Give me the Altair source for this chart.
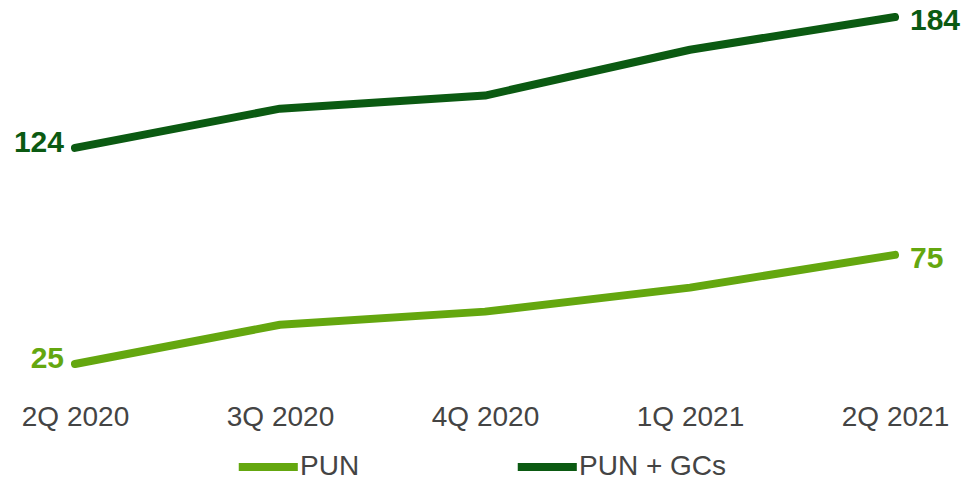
import altair as alt
import pandas as pd

quarters = ["2Q 2020", "3Q 2020", "4Q 2020", "1Q 2021", "2Q 2021"]
pun = [25, 43, 49, 60, 75]
pun_gcs = [124, 142, 148, 169, 184]
series_names = ["PUN", "PUN + GCs"]
series_colors = ["#64a70f", "#0b5a12"]

rows = []
for q, a, b in zip(quarters, pun, pun_gcs):
    rows.append({"quarter": q, "series": series_names[0], "value": a})
    rows.append({"quarter": q, "series": series_names[1], "value": b})
df = pd.DataFrame(rows)

regular = "Liberation Sans, Arial, sans-serif"
bold = "Liberation Sans, Arial, sans-serif"

x_enc = alt.X(
    "quarter:N",
    sort=quarters,
    scale=alt.Scale(type="point", padding=0),
    axis=alt.Axis(
        title=None,
        domain=False,
        ticks=False,
        grid=False,
        labelAngle=0,
        labelFont=regular,
        labelFontSize=28,
        labelColor="#444444",
        labelPadding=39,
    ),
)
y_enc = alt.Y(
    "value:Q",
    scale=alt.Scale(domain=[25, 184], zero=False, nice=False),
    axis=None,
)
# legend swatch: a long horizontal stroke reaching left of the symbol slot,
# so the entry keeps a compact height
color_enc = alt.Color(
    "series:N",
    scale=alt.Scale(domain=series_names, range=series_colors),
    legend=alt.Legend(
        title=None,
        orient="none",
        direction="horizontal",
        legendX=197,
        legendY=436,
        symbolType="M-6.4,0H1.6",
        symbolSize=218,
        symbolStrokeWidth=8,
        labelFont=regular,
        labelFontSize=28,
        labelColor="#444444",
        labelOffset=0,
        columnPadding=141,
    ),
)

base = alt.Chart(df)

lines = base.mark_line(strokeWidth=8, strokeCap="round", strokeJoin="round").encode(
    x=x_enc, y=y_enc, color=color_enc
)

label_color = alt.Color(
    "series:N", scale=alt.Scale(domain=series_names, range=series_colors), legend=None
)

# value labels at the start and end of each series
first_labels = base.transform_filter(
    alt.datum.quarter == quarters[0]
).mark_text(
    align="right", baseline="middle", dx=-11, dy=-5,
    font=bold, fontSize=30, fontWeight="bold"
).encode(x=x_enc, y=y_enc, text="value:Q", color=label_color)

last_labels = base.transform_filter(
    alt.datum.quarter == quarters[-1]
).mark_text(
    align="left", baseline="middle", dx=15, dy=4,
    font=bold, fontSize=30, fontWeight="bold"
).encode(x=x_enc, y=y_enc, text="value:Q", color=label_color)

chart = alt.layer(lines, first_labels, last_labels).properties(
    width=820,
    height=347,
    background="white",
    autosize=alt.AutoSizeParams(type="none"),
    padding={"left": 75, "top": 17, "right": 73, "bottom": 115},
).configure_view(stroke="transparent")

chart.save("out.html", embed_options={"renderer": "svg", "actions": False})
